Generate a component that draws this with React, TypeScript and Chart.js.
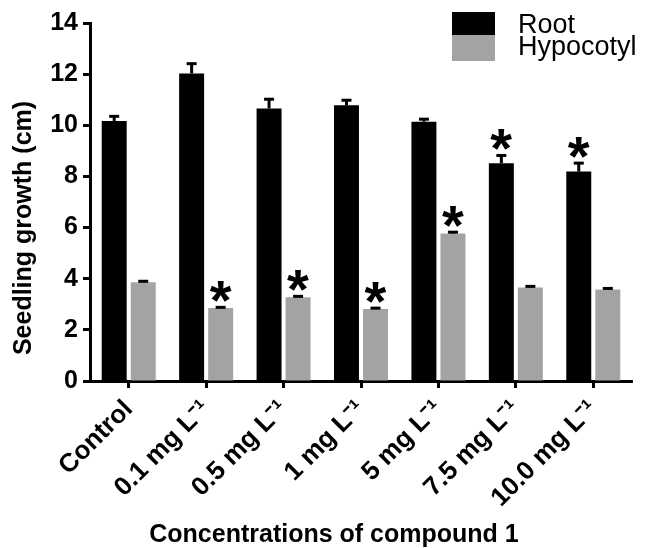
import React, { useEffect, useRef } from 'react';
import { Chart, registerables } from 'chart.js';

Chart.register(...registerables);

const categories = ['Control', '0.1 mg L⁻¹', '0.5 mg L⁻¹', '1 mg L⁻¹', '5 mg L⁻¹', '7.5 mg L⁻¹', '10.0 mg L⁻¹'];
const seriesNames = ['Root', 'Hypocotyl'];
const rootValues = [10.17, 12.03, 10.66, 10.78, 10.14, 8.52, 8.19];
const rootErrors = [0.18, 0.38, 0.36, 0.2, 0.1, 0.3, 0.33];
const hypocotylValues = [3.86, 2.85, 3.28, 2.82, 5.77, 3.66, 3.58];
const hypocotylErrors = [0.04, 0.03, 0.03, 0.03, 0.05, 0.04, 0.04];
const rootSignificant = [false, false, false, false, false, true, true];
const hypocotylSignificant = [false, true, true, true, true, false, false];
const yMin = 0;
const yMax = 14;
const yStep = 2;
const xTitle = 'Concentrations of compound 1';
const yTitle = 'Seedling growth (cm)';
const starText = '*';

const FONT = '"Liberation Sans", Arial, Helvetica, sans-serif';
const ROOT_COLOR = '#000000';
const HYPO_COLOR = '#a3a3a3';

const overlayPlugin = {
  id: 'overlay',
  afterDatasetsDraw(chart: any) {
    const ctx = chart.ctx as CanvasRenderingContext2D;
    const yScale = chart.scales.y;
    const errs = [rootErrors, hypocotylErrors];
    const sig = [rootSignificant, hypocotylSignificant];
    ctx.save();
    ctx.font = `bold 100px ${FONT}`;
    const m100 = ctx.measureText(starText);
    const ink100 = (m100.actualBoundingBoxLeft || 0) + (m100.actualBoundingBoxRight || 0) || 33;
    const starSize = Math.round((22 / ink100) * 100);
    chart.data.datasets.forEach((ds: any, di: number) => {
      const meta = chart.getDatasetMeta(di);
      meta.data.forEach((bar: any, i: number) => {
        const v = ds.data[i] as number;
        const top = yScale.getPixelForValue(v + errs[di][i]);
        ctx.strokeStyle = '#000';
        ctx.lineWidth = 3;
        ctx.lineCap = 'butt';
        ctx.beginPath();
        ctx.moveTo(bar.x, bar.y);
        ctx.lineTo(bar.x, top);
        ctx.stroke();
        ctx.beginPath();
        ctx.moveTo(bar.x - 5, top);
        ctx.lineTo(bar.x + 5, top);
        ctx.stroke();
        if (sig[di][i]) {
          ctx.font = `bold ${starSize}px ${FONT}`;
          const m = ctx.measureText(starText);
          const asc = m.actualBoundingBoxAscent || starSize * 0.73;
          const desc = m.actualBoundingBoxDescent || -starSize * 0.43;
          const l = m.actualBoundingBoxLeft || 0;
          const r = m.actualBoundingBoxRight || starSize * 0.36;
          const cy = top - 16;
          const baseline = cy + (asc - desc) / 2;
          const x = bar.x - (r - l) / 2;
          ctx.fillStyle = '#000';
          ctx.textAlign = 'left';
          ctx.textBaseline = 'alphabetic';
          ctx.fillText(starText, x, baseline);
        }
      });
    });
    ctx.restore();
  },
  afterDraw(chart: any) {
    const ctx = chart.ctx as CanvasRenderingContext2D;
    const area = chart.chartArea;
    ctx.save();
    const colors = [ROOT_COLOR, HYPO_COLOR];
    const boxLeft = area.right - 180;
    const boxTops = [12, 35];
    const boxBottoms = [35, 61];
    const baselines = [33, 55];
    ctx.font = `27px ${FONT}`;
    ctx.textAlign = 'left';
    ctx.textBaseline = 'alphabetic';
    seriesNames.forEach((name, k) => {
      ctx.fillStyle = colors[k];
      ctx.fillRect(boxLeft, boxTops[k], 43, boxBottoms[k] - boxTops[k]);
      ctx.fillStyle = '#000';
      ctx.fillText(name, boxLeft + 66, baselines[k]);
    });
    ctx.font = `bold 25px ${FONT}`;
    ctx.fillStyle = '#000';
    ctx.textAlign = 'center';
    ctx.fillText(xTitle, (area.left + area.right) / 2 - 27, chart.height - 6);
    ctx.translate(30.5, (area.top + area.bottom) / 2 + 26);
    ctx.rotate(-Math.PI / 2);
    ctx.fillText(yTitle, 0, 0);
    ctx.restore();
  },
};

export default function App() {
  const ref = useRef<HTMLCanvasElement>(null);
  useEffect(() => {
    document.body.style.margin = '0';
    const canvas = ref.current!;
    const chart = new Chart(canvas, {
      type: 'bar',
      data: {
        labels: categories,
        datasets: [
          {
            label: seriesNames[0],
            data: rootValues,
            backgroundColor: ROOT_COLOR,
            borderWidth: 0,
            categoryPercentage: 0.75,
            barPercentage: 0.86,
          },
          {
            label: seriesNames[1],
            data: hypocotylValues,
            backgroundColor: HYPO_COLOR,
            borderWidth: 0,
            categoryPercentage: 0.75,
            barPercentage: 0.86,
          },
        ],
      },
      options: {
        responsive: false,
        animation: false,
        devicePixelRatio: 1,
        layout: { padding: { left: 0, right: 14, top: 23, bottom: 0 } },
        plugins: {
          legend: { display: false },
          tooltip: { enabled: false },
          title: { display: false },
        },
        scales: {
          x: {
            type: 'category',
            grid: {
              display: true,
              drawOnChartArea: false,
              drawTicks: true,
              tickLength: 7,
              tickWidth: 3,
              tickColor: '#000',
              offset: false,
            },
            border: { display: true, color: '#000', width: 3 },
            ticks: {
              color: '#000',
              font: { family: FONT, size: 26, weight: 'bold' },
              minRotation: 45,
              maxRotation: 45,
              autoSkip: false,
              padding: 6,
            },
            afterFit: (s: any) => {
              s.height = 167;
            },
          },
          y: {
            min: yMin,
            max: yMax,
            grid: {
              display: true,
              drawOnChartArea: false,
              drawTicks: true,
              tickLength: 7,
              tickWidth: 3,
              tickColor: '#000',
            },
            border: { display: true, color: '#000', width: 3 },
            ticks: {
              stepSize: yStep,
              color: '#000',
              font: { family: FONT, size: 25, weight: 'bold' },
              padding: 5,
            },
            afterFit: (s: any) => {
              s.width = 90;
            },
          },
        },
      },
      plugins: [overlayPlugin],
    });
    return () => chart.destroy();
  }, []);
  return (
    <div style={{ width: 646, height: 548 }}>
      <canvas ref={ref} width={646} height={548} style={{ display: 'block' }} />
    </div>
  );
}
